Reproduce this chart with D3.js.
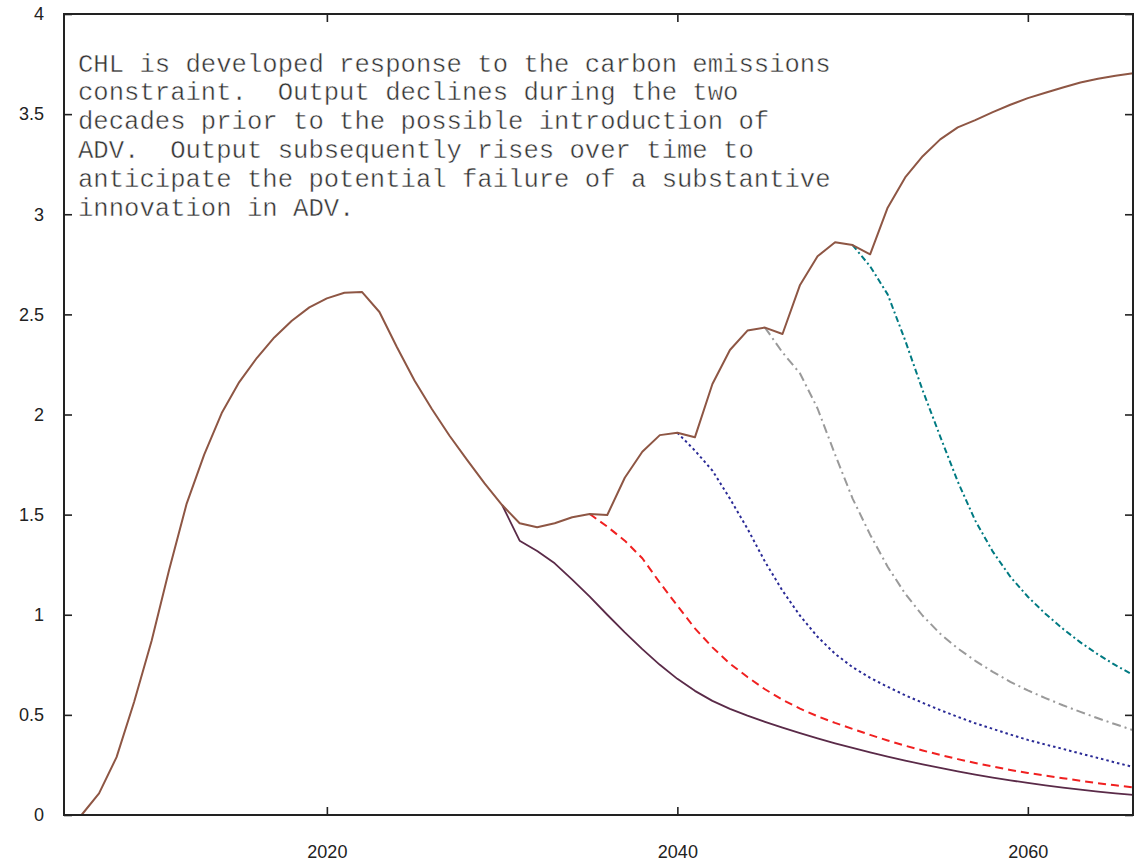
<!DOCTYPE html>
<html>
<head>
<meta charset="utf-8">
<script src="https://cdn.jsdelivr.net/npm/d3@7"></script>
<style>
  html, body { margin: 0; padding: 0; background: #fff; }
  svg { display: block; }
</style>
</head>
<body>
<svg id="chart" width="1147" height="866"></svg>
<script>
// ---- data ----
const xTicks = [2020, 2040, 2060];
const yTicks = [0, 0.5, 1, 1.5, 2, 2.5, 3, 3.5, 4];

// main output path (solid brown), yearly from 2006
const mainStart = 2006;
const mainValues = [
  0, 0.108, 0.289, 0.564, 0.87, 1.225, 1.555, 1.80, 2.007, 2.162,
  2.282, 2.385, 2.468, 2.535, 2.58, 2.608, 2.612, 2.512, 2.336, 2.17,
  2.026, 1.894, 1.773, 1.656, 1.548, 1.457, 1.437, 1.457, 1.487, 1.503,
  1.498, 1.684, 1.814, 1.897, 1.909, 1.886, 2.152, 2.322, 2.419, 2.434,
  2.402, 2.647, 2.79, 2.86, 2.846, 2.80, 3.033, 3.184, 3.29, 3.374,
  3.434, 3.47, 3.51, 3.547, 3.58, 3.607, 3.633, 3.658, 3.677, 3.692, 3.704
];

// ADV arrives 2030 (dark purple, solid)
const adv2030Start = 2030;
const adv2030Values = [
  1.548, 1.37, 1.318, 1.257, 1.175, 1.09, 1.0, 0.912, 0.828, 0.75,
  0.68, 0.62, 0.57, 0.53, 0.496, 0.465, 0.436, 0.409, 0.383, 0.358,
  0.335, 0.313, 0.292, 0.272, 0.253, 0.235, 0.218, 0.202, 0.187, 0.173,
  0.16, 0.148, 0.137, 0.127, 0.117, 0.108, 0.1
];

// ADV arrives 2035 (red, dashed)
const adv2035Start = 2035;
const adv2035Values = [
  1.503, 1.44, 1.37, 1.282, 1.16, 1.045, 0.932, 0.837, 0.756, 0.689,
  0.628, 0.575, 0.531, 0.493, 0.46, 0.43, 0.4, 0.372, 0.346, 0.322,
  0.3, 0.279, 0.26, 0.242, 0.225, 0.21, 0.197, 0.184, 0.171, 0.159,
  0.148, 0.138
];

// ADV arrives 2040 (navy, dotted)
const adv2040Start = 2040;
const adv2040Values = [
  1.909, 1.82, 1.72, 1.58, 1.43, 1.265, 1.12, 0.995, 0.89, 0.805,
  0.738, 0.685, 0.64, 0.598, 0.56, 0.524, 0.49, 0.458, 0.43, 0.402,
  0.375, 0.352, 0.33, 0.307, 0.285, 0.262, 0.24
];

// ADV arrives 2045 (gray, dash-dot)
const adv2045Start = 2045;
const adv2045Values = [
  2.434, 2.31, 2.205, 2.03, 1.80, 1.58, 1.40, 1.24, 1.105, 0.995,
  0.905, 0.832, 0.77, 0.715, 0.665, 0.622, 0.584, 0.548, 0.515, 0.483,
  0.453, 0.424
];

// ADV arrives 2050 (teal, dash-dot)
const adv2050Start = 2050;
const adv2050Values = [
  2.846, 2.74, 2.6, 2.37, 2.12, 1.89, 1.665, 1.47, 1.315, 1.19,
  1.09, 1.005, 0.93, 0.862, 0.802, 0.748, 0.70
];

const noteLines = [
  "CHL is developed response to the carbon emissions",
  "constraint.  Output declines during the two",
  "decades prior to the possible introduction of",
  "ADV.  Output subsequently rises over time to",
  "anticipate the potential failure of a substantive",
  "innovation in ADV."
];

// ---- layout ----
const svg = d3.select("#chart");
const L = 64, R = 1133, T = 14, B = 815;

const x = d3.scaleLinear().domain([2005, 2066]).range([L, R]);
const y = d3.scaleLinear().domain([0, 4]).range([B, T]);

const toPts = (start, vals) => vals.map((v, i) => [start + i, v]);
const line = d3.line().x(d => x(d[0])).y(d => y(d[1]));

const series = [
  { start: adv2045Start, vals: adv2045Values, color: "#9a9a9a", dash: "9,4,2,4", w: 2 },
  { start: adv2050Start, vals: adv2050Values, color: "#007a82", dash: "6,3,2,3", w: 2 },
  { start: adv2040Start, vals: adv2040Values, color: "#2a2a96", dash: "2.5,3", w: 2 },
  { start: adv2035Start, vals: adv2035Values, color: "#f02020", dash: "8,5", w: 2 },
  { start: adv2030Start, vals: adv2030Values, color: "#5a2a48", dash: null, w: 1.8 },
  { start: mainStart, vals: mainValues, color: "#8e5644", dash: null, w: 2 }
];

const g = svg.append("g");
series.forEach(s => {
  g.append("path")
    .datum(toPts(s.start, s.vals))
    .attr("d", line)
    .attr("fill", "none")
    .attr("stroke", s.color)
    .attr("stroke-width", s.w)
    .attr("stroke-linejoin", "round")
    .attr("stroke-dasharray", s.dash);
});

// ---- axes (ticks inward, mirrored) ----
const tickLen = 8;
const axisStyle = sel => {
  sel.select(".domain").remove();
  sel.selectAll(".tick line").attr("stroke", "#222").attr("stroke-width", 1.6);
  sel.selectAll(".tick text")
    .attr("fill", "#222")
    .style("font-family", "'Liberation Sans', Arial, Helvetica, sans-serif")
    .style("font-size", "18px");
};

svg.append("g").attr("transform", `translate(${L},0)`)
  .call(d3.axisLeft(y).tickValues(yTicks).tickSizeInner(-tickLen).tickSizeOuter(0).tickPadding(20)
    .tickFormat(d3.format("")))
  .call(axisStyle);

svg.append("g").attr("transform", `translate(${R},0)`)
  .call(d3.axisRight(y).tickValues(yTicks).tickSizeInner(-tickLen).tickSizeOuter(0).tickFormat(""))
  .call(axisStyle);

svg.append("g").attr("transform", `translate(0,${B})`)
  .call(d3.axisBottom(x).tickValues(xTicks).tickSizeInner(-tickLen).tickSizeOuter(0).tickPadding(30)
    .tickFormat(d3.format("d")))
  .call(axisStyle);

svg.append("g").attr("transform", `translate(0,${T})`)
  .call(d3.axisTop(x).tickValues(xTicks).tickSizeInner(-tickLen).tickSizeOuter(0).tickFormat(""))
  .call(axisStyle);

// frame
svg.append("rect")
  .attr("x", L).attr("y", T)
  .attr("width", R - L).attr("height", B - T)
  .attr("fill", "none")
  .attr("stroke", "#222")
  .attr("stroke-width", 2);

// ---- annotation ----
const note = svg.append("text")
  .attr("x", 78)
  .attr("y", 71.5)
  .attr("xml:space", "preserve")
  .style("white-space", "pre")
  .style("font-family", "'Liberation Mono', 'Courier New', Courier, monospace")
  .style("font-size", "25.6px")
  .attr("fill", "#333")
  .attr("stroke", "#fff")
  .attr("stroke-width", 0.45);
note.selectAll("tspan")
  .data(noteLines)
  .join("tspan")
  .attr("x", 78)
  .attr("dy", (d, i) => i === 0 ? 0 : 28.8)
  .text(d => d);
</script>
</body>
</html>
